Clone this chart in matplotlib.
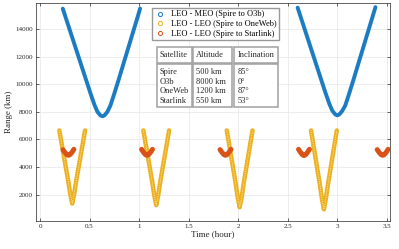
import numpy as np
import matplotlib
matplotlib.use('Agg')
import matplotlib.pyplot as plt
from matplotlib.lines import Line2D
from matplotlib.patches import Rectangle

# LEO - MEO (Spire to O3b), two visibility passes
meo_t1 = [0.23, 0.27, 0.31, 0.35, 0.39, 0.43, 0.47, 0.51, 0.55, 0.58, 0.61, 0.63,
          0.65, 0.68, 0.71, 0.75, 0.79, 0.83, 0.87, 0.91, 0.95, 0.99, 1.01]
meo_r1 = [15490, 14610, 13730, 12850, 11970, 11090, 10210, 9330, 8500, 8000, 7740, 7680,
          7740, 8000, 8450, 9330, 10250, 11200, 12150, 13100, 14050, 15000, 15500]
meo_t2 = [2.60, 2.64, 2.68, 2.72, 2.76, 2.80, 2.84, 2.88, 2.92, 2.95, 2.98, 3.00,
          3.02, 3.05, 3.08, 3.12, 3.16, 3.20, 3.24, 3.28, 3.32, 3.36, 3.385]
meo_r2 = [15560, 14680, 13800, 12920, 12040, 11160, 10280, 9400, 8580, 8080, 7810, 7750,
          7810, 8070, 8450, 9330, 10250, 11200, 12150, 13100, 14050, 15000, 15600]

# LEO - LEO (Spire to OneWeb), four passes
ow_t = [
    [0.195, 0.225, 0.255, 0.285, 0.305, 0.325, 0.345, 0.365, 0.395, 0.425, 0.455],
    [1.043, 1.073, 1.103, 1.133, 1.153, 1.173, 1.193, 1.213, 1.243, 1.273, 1.303],
    [1.885, 1.915, 1.945, 1.975, 1.995, 2.015, 2.035, 2.055, 2.085, 2.115, 2.145],
    [2.735, 2.765, 2.795, 2.825, 2.845, 2.865, 2.885, 2.905, 2.935, 2.965, 2.995],
]
ow_r = [
    [6650, 5430, 4200, 2980, 2050, 1350, 2050, 2980, 4200, 5430, 6650],
    [6650, 5400, 4150, 2900, 1950, 1230, 1950, 2900, 4150, 5400, 6650],
    [6650, 5370, 4080, 2790, 1800, 1080, 1800, 2790, 4080, 5370, 6650],
    [6650, 5330, 4010, 2690, 1700, 930, 1700, 2690, 4010, 5330, 6650],
]

# LEO - LEO (Spire to Starlink), five short passes
sl_t = [
    [0.232, 0.252, 0.272, 0.287, 0.302, 0.322, 0.342],
    [1.025, 1.045, 1.065, 1.080, 1.095, 1.115, 1.135],
    [1.817, 1.837, 1.857, 1.872, 1.887, 1.907, 1.927],
    [2.609, 2.629, 2.649, 2.664, 2.679, 2.699, 2.719],
    [3.403, 3.423, 3.443, 3.458, 3.473, 3.493, 3.513],
]
sl_r = [
    [5250, 5050, 4890, 4850, 4890, 5060, 5280],
    [5280, 5060, 4890, 4850, 4890, 5060, 5280],
    [5260, 5050, 4890, 4850, 4890, 5060, 5280],
    [5280, 5060, 4880, 4830, 4880, 5060, 5280],
    [5260, 5050, 4890, 4850, 4890, 5060, 5280],
]

labels = ['LEO - MEO (Spire to O3b)', 'LEO - LEO (Spire to OneWeb)',
          'LEO - LEO (Spire to Starlink)']

tbl_head = ['Satellite', 'Altitude', 'Inclination']
tbl_sat = ['Spire', 'O3b', 'OneWeb', 'Starlink']
tbl_alt = ['500 km', '8000 km', '1200 km', '550 km']
tbl_inc = ['85°', '0°', '87°', '53°']

c_blue = '#1b7cc2'
c_yel = '#EDB120'
c_red = '#D95319'

plt.rcParams['font.family'] = ['Liberation Serif', 'DejaVu Serif']

W, H = 399, 249
fig = plt.figure(figsize=(W / 100, H / 100), dpi=100)
ax = fig.add_axes([35.7 / W, 1 - 221 / H, (390 - 35.7) / W, (221 - 3) / H])

for t, r in [(meo_t1, meo_r1), (meo_t2, meo_r2)]:
    ax.plot(t, r, color=c_blue, lw=2.8, solid_capstyle='round', solid_joinstyle='round')
for t, r in zip(ow_t, ow_r):
    ax.plot(t, r, color=c_yel, lw=3.2, solid_capstyle='round', solid_joinstyle='round')
    ax.plot(t, r, color='white', lw=0.6, ls=(0, (0.8, 1.4)), alpha=0.9)
for t, r in zip(sl_t, sl_r):
    ax.plot(t, r, color=c_red, lw=3.6, solid_capstyle='round', solid_joinstyle='round')

ax.set_xlim(-0.0434, 3.532)
ax.set_ylim(80, 15900)
ax.set_xticks(np.arange(0, 3.51, 0.5))
ax.set_xticklabels(['0', '0.5', '1', '1.5', '2', '2.5', '3', '3.5'])
ax.set_yticks(np.arange(2000, 14001, 2000))
ax.grid(True, color='#e6e6e6', lw=0.5)
ax.set_axisbelow(True)
ax.tick_params(direction='in', length=2, width=0.5, labelsize=5, colors='#262626',
               top=True, right=True, pad=2)
for s in ax.spines.values():
    s.set_color('#262626')
    s.set_linewidth(0.5)
ax.set_xlabel('Time (hour)', fontsize=6.5, labelpad=1, color='#262626')
ax.set_ylabel('Range (km)', fontsize=6.5, labelpad=2, color='#262626')

handles = [Line2D([], [], ls='none', marker='o', ms=3, mfc='none', mew=0.7, color=c)
           for c in [c_blue, c_yel, c_red]]
fig.legend(handles, labels, loc='upper left', bbox_to_anchor=(152 / W, 1 - 8 / H),
           bbox_transform=fig.transFigure, fontsize=6, frameon=True, fancybox=False,
           edgecolor='#999999', framealpha=1, borderpad=0.3, labelspacing=0.2,
           handlelength=1.2, handletextpad=0.8, borderaxespad=0)


def fpx(x, y):
    return x / W, 1 - y / H


cols_x = [(156.7, 192.3), (193.3, 232.3), (234.3, 278.3)]
bodies = [tbl_sat, tbl_alt, tbl_inc]
for (x0, x1), head, body in zip(cols_x, tbl_head, bodies):
    # header box
    fx, fy = fpx(x0, 63.3)
    fig.add_artist(Rectangle((fx, fy), (x1 - x0) / W, 16 / H, transform=fig.transFigure,
                             facecolor='white', edgecolor='#a0a0a0', lw=1.1))
    fig.text(*fpx(x0 + 3, 55), head, fontsize=6, va='center', ha='left', color='#262626')
    # body box
    fx, fy = fpx(x0, 106.7)
    fig.add_artist(Rectangle((fx, fy), (x1 - x0) / W, 42.4 / H, transform=fig.transFigure,
                             facecolor='white', edgecolor='#a0a0a0', lw=1.1))
    for i, txt in enumerate(body):
        fig.text(*fpx(x0 + 3, 72 + 9.7 * i), txt, fontsize=6, va='center', ha='left',
                 color='#262626')

fig.savefig('out.png', dpi=100)
